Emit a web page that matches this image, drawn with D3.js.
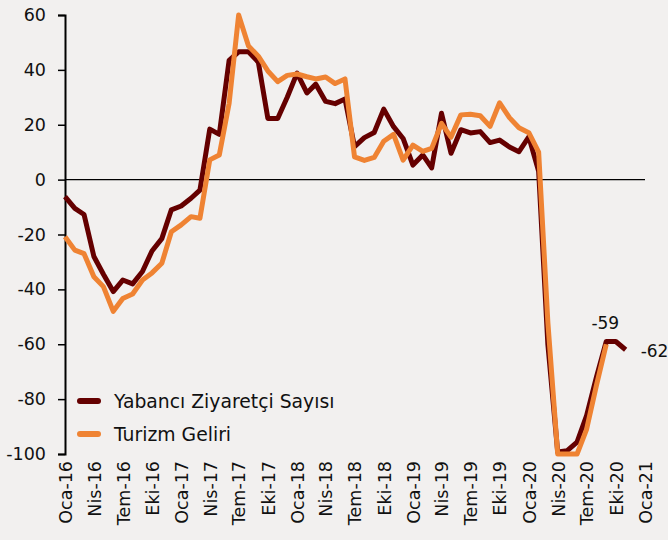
<!DOCTYPE html>
<html>
<head>
<meta charset="utf-8">
<script src="https://cdn.jsdelivr.net/npm/d3@7"></script>
<style>
  html, body { margin: 0; padding: 0; background: #F2F0EF; }
  svg { display: block; }
  text { font-family: "DejaVu Sans", Verdana, sans-serif; fill: #111; }
</style>
</head>
<body>
<svg id="chart" width="668" height="540"></svg>
<script>
// ---- Data ----
const startMonth = "2016-01";
const endMonth = "2021-01";
const seriesNames = ["Yabancı Ziyaretçi Sayısı", "Turizm Geliri"];
const seriesColors = ["#650000", "#EF8333"];

// Monthly y/y change (%), starting Oca-16
const yabanciZiyaretci = [
  -6.2, -10.5, -12.7, -28, -34.5, -40.8, -36.6, -38, -33.5, -26, -21.5, -11,
  -9.6, -6.8, -3.8, 18.4, 16.5, 43.5, 46.6, 46.6, 42.8, 22.3, 22.3, 30,
  38.8, 31.6, 34.8, 28.5, 27.7, 29.4, 12, 15.3, 17.2, 25.7, 19.3, 15,
  5.3, 9, 4.3, 24.2, 9.6, 18.2, 17, 17.5, 13.5, 14.4, 11.9, 10.2,
  15.6, 3, -60, -99.3, -98.8, -95.7, -86, -72, -59, -59, -62
];
const turizmGeliri = [
  -20.8, -25.7, -27, -35.4, -39, -48, -43.3, -41.7, -36.6, -34, -30.5, -19,
  -16.5, -13.5, -14.1, 7.2, 9, 27.8, 60, 48.7, 45, 39.6, 35.7, 38,
  38.5, 37.5, 36.7, 37.4, 35, 36.7, 8.3, 7, 8.1, 14, 16.5, 7.1,
  12.6, 10.3, 11.4, 20.5, 15.5, 23.6, 23.8, 23.3, 19.4, 28, 22.6, 18.9,
  17.1, 10, -52, -100, -100, -100, -91, -75, -60
];
const tickLabels = [
  "Oca-16","Nis-16","Tem-16","Eki-16","Oca-17","Nis-17","Tem-17","Eki-17",
  "Oca-18","Nis-18","Tem-18","Eki-18","Oca-19","Nis-19","Tem-19","Eki-19",
  "Oca-20","Nis-20","Tem-20","Eki-20","Oca-21"
];
const yTicks = [60, 40, 20, 0, -20, -40, -60, -80, -100];
const annotations = [
  { series: 0, index: 56, label: "-59", pos: "above" },
  { series: 0, index: 58, label: "-62", pos: "right" }
];

// ---- Chart ----
const parse = d3.timeParse("%Y-%m");
const months = d3.timeMonth.range(parse(startMonth), d3.timeMonth.offset(parse(endMonth), 1));
const svg = d3.select("#chart");

const x = d3.scaleTime().domain([parse(startMonth), parse(endMonth)]).range([65, 645]);
const y = d3.scaleLinear().domain([-100, 60]).range([454, 15]);

// y axis
const yAxis = d3.axisLeft(y).tickValues(yTicks).tickSize(7).tickPadding(12).tickFormat(d => String(d));
const gy = svg.append("g").attr("transform", `translate(${x.range()[0]},0)`).call(yAxis);
gy.select(".domain").attr("stroke", "#000").attr("stroke-width", 2);
gy.selectAll(".tick line").attr("stroke", "#000").attr("stroke-width", 1.5);
gy.selectAll(".tick text").style("font-size", "17.5px").attr("fill", "#111")
  .style("font-family", '"DejaVu Sans", Verdana, sans-serif');

// zero line
svg.append("line")
  .attr("x1", x.range()[0]).attr("x2", x.range()[1])
  .attr("y1", y(0)).attr("y2", y(0))
  .attr("stroke", "#000").attr("stroke-width", 1.3);

// x labels (every 3 months)
const tickDates = months.filter((d, i) => i % 3 === 0);
const xAxis = d3.axisBottom(x).tickValues(tickDates).tickSize(0).tickPadding(0)
  .tickFormat((d, i) => tickLabels[i]);
const gx = svg.append("g").attr("transform", `translate(0,${y(-100)})`).call(xAxis);
gx.select(".domain").remove();
gx.selectAll(".tick text")
  .style("font-size", "17.5px")
  .style("font-family", '"DejaVu Sans", Verdana, sans-serif')
  .attr("fill", "#111")
  .attr("text-anchor", "end")
  .attr("transform", "translate(0,7) rotate(-90)")
  .attr("x", 0).attr("y", 0).attr("dy", "0.36em");

// lines
const allSeries = [yabanciZiyaretci, turizmGeliri];
const line = d3.line().x((d, i) => x(months[i])).y(d => y(d));
allSeries.forEach((s, k) => {
  svg.append("path")
    .datum(s)
    .attr("fill", "none")
    .attr("stroke", seriesColors[k])
    .attr("stroke-width", 5)
    .attr("stroke-linejoin", "round")
    .attr("d", line);
});

// annotations
annotations.forEach(a => {
  const v = allSeries[a.series][a.index];
  const px = x(months[a.index]), py = y(v);
  const t = svg.append("text").text(a.label).style("font-size", "17px");
  if (a.pos === "above") {
    t.attr("x", px - 1).attr("y", py - 13).attr("text-anchor", "middle");
  } else {
    t.attr("x", px + 15).attr("y", py + 1).attr("dy", "0.36em").attr("text-anchor", "start");
  }
});

// legend
const legend = svg.append("g");
seriesNames.forEach((name, k) => {
  const ly = 401 + k * 33;
  legend.append("line")
    .attr("x1", 80).attr("x2", 98).attr("y1", ly).attr("y2", ly)
    .attr("stroke", seriesColors[k]).attr("stroke-width", 6).attr("stroke-linecap", "round");
  legend.append("text")
    .attr("x", 114).attr("y", ly).attr("dy", "0.36em")
    .style("font-size", "18.8px")
    .style("font-family", '"DejaVu Sans", Verdana, sans-serif')
    .text(name);
});
</script>
</body>
</html>
